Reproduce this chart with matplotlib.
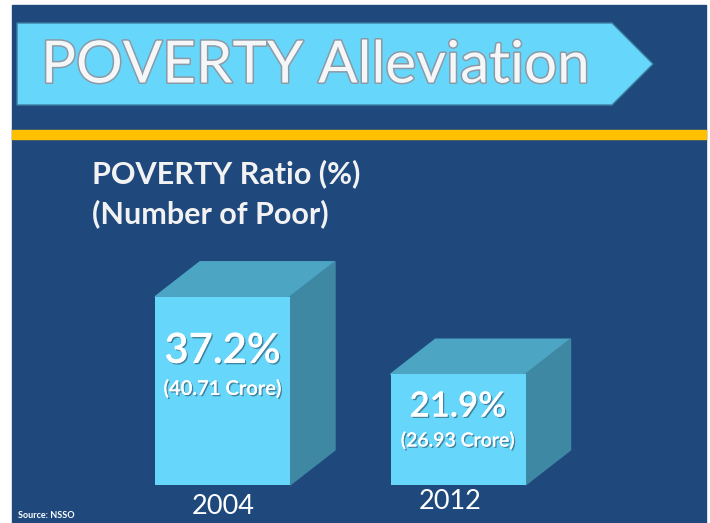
# Poverty alleviation slide: 3D-style bars of poverty ratio, 2004 vs 2012
import matplotlib.pyplot as plt
from matplotlib.patches import Polygon, Rectangle
import matplotlib.patheffects as pe

plt.rcParams['font.family'] = ['Lato', 'DejaVu Sans']

# data
years = ["2004", "2012"]
ratio = [37.2, 21.9]            # poverty ratio (%)
poor = ["40.71 Crore", "26.93 Crore"]   # number of poor

# colours
bg = "#1F497D"
front = "#66D7FB"
top_c = "#4DA5C4"
side_c = "#3F88A4"
yellow = "#FFC000"
txt = "#F2F2F2"

W, H = 710, 523
fig = plt.figure(figsize=(W / 100, H / 100), dpi=100)

# background layer in pixel coords
ax0 = fig.add_axes([0, 0, 1, 1])
ax0.set_xlim(0, W)
ax0.set_ylim(H, 0)
ax0.axis("off")
ax0.add_patch(Rectangle((12, 5), 694, H, color=bg))
ax0.add_patch(Rectangle((12, 130), 694, 9, color=yellow))

# title banner (arrow shape)
banner = Polygon([(17, 23), (612, 23), (653, 64), (612, 105), (17, 105)],
                 closed=True, facecolor=front, edgecolor="#3C7FA0", lw=1)
ax0.add_patch(banner)
ax0.text(41, 66, "POVERTY Alleviation", fontsize=42, color="#F4F6F8",
         va="center", ha="left",
         path_effects=[pe.withStroke(linewidth=2.2, foreground="#8A9AA6")])

ax0.text(92, 174, "POVERTY Ratio (%)", fontsize=22, fontweight="bold",
         color=txt, va="center", ha="left")
ax0.text(92, 214, "(Number of Poor)", fontsize=22, fontweight="bold",
         color=txt, va="center", ha="left")
ax0.text(18, 516, "Source: NSSO", fontsize=6.5, fontweight="bold",
         color="white", va="center", ha="left")

# chart axes: x in pixels, y in percent
px_per_unit = 5.06
base_px, top_px = 485, 250
ax = fig.add_axes([100 / W, (H - base_px) / H, 520 / W, (base_px - top_px) / H])
ax.set_xlim(100, 620)
ax.set_ylim(0, (base_px - top_px) / px_per_unit)
ax.axis("off")

centers = [222.5, 458]
width = 135
dx, dy = 45, 35 / px_per_unit

ax.bar(centers, ratio, width=width, color=front, zorder=3)
for c, v in zip(centers, ratio):
    x0, x1 = c - width / 2, c + width / 2
    ax.add_patch(Polygon([(x0, v), (x1, v), (x1 + dx, v + dy), (x0 + dx, v + dy)],
                         closed=True, color=top_c, zorder=2, clip_on=False))
    ax.add_patch(Polygon([(x1, 0), (x1 + dx, dy), (x1 + dx, v + dy), (x1, v)],
                         closed=True, color=side_c, zorder=2, clip_on=False))

shadow = [pe.withSimplePatchShadow(offset=(1, -1), shadow_rgbFace="#3A6F88", alpha=0.8),
          pe.Normal()]
big = [30, 25]
small = [14.5, 14]
pct_y = [26.5, 15.5]
num_y = [19.0, 8.8]
for c, v, p, bs, ss, py, ny in zip(centers, ratio, poor, big, small, pct_y, num_y):
    ax.text(c, py, f"{v}%", fontsize=bs, fontweight="semibold", color="white",
            ha="center", va="center", path_effects=shadow, zorder=5)
    ax.text(c, ny, f"({p})", fontsize=ss, fontweight="semibold", color="white",
            ha="center", va="center", path_effects=shadow, zorder=5)

year_x = [223, 450]
year_y = [-4.3, -3.2]
for x, y, lab in zip(year_x, year_y, years):
    ax.text(x, y, lab, fontsize=19.5, color="white", ha="center", va="center",
            clip_on=False)

fig.savefig("out.png", dpi=100, facecolor="white")
